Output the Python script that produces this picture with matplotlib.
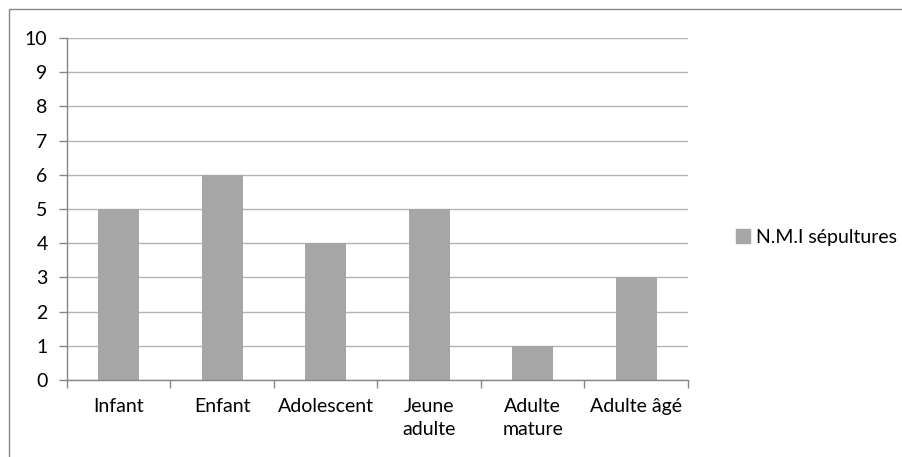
import matplotlib.pyplot as plt
from matplotlib.patches import Rectangle
from matplotlib.lines import Line2D

# Données
categories = ['Infant', 'Enfant', 'Adolescent', 'Jeune\nadulte', 'Adulte\nmature', 'Adulte âgé']
nmi_sepultures = [5, 6, 4, 5, 1, 3]
serie_label = 'N.M.I sépultures'

plt.rcParams['font.family'] = ['Lato', 'DejaVu Sans']

W, H = 903, 457
fig = plt.figure(figsize=(W / 100, H / 100), dpi=100)
ax = fig.add_axes([67 / W, 1 - 380 / H, (688 - 67) / W, (380 - 38) / H])

axis_color = '#868686'
bar_color = '#a6a6a6'

x = range(len(categories))
ax.bar(x, nmi_sepultures, width=0.4, color=bar_color, zorder=3, label=serie_label)

ax.set_xlim(-0.5, len(categories) - 0.5)
ax.set_ylim(0, 10)
ax.set_yticks(range(0, 11))
ax.set_xticks(list(x))
ax.set_xticklabels(categories, fontsize=14, linespacing=1.45)
ax.set_xticks([i - 0.5 for i in range(len(categories) + 1)], minor=True)
ax.tick_params(axis='x', which='major', length=0, pad=13)
ax.tick_params(axis='x', which='minor', length=6, color=axis_color, width=1)
ax.tick_params(axis='y', length=6, color=axis_color, width=1, labelsize=14, pad=8)

ax.grid(axis='y', color='#b3b3b3', linewidth=1, zorder=0)
for side in ['top', 'right']:
    ax.spines[side].set_visible(False)
for side in ['left', 'bottom']:
    ax.spines[side].set_color(axis_color)
    ax.spines[side].set_linewidth(1)
    ax.spines[side].set_zorder(4)

# Légende
handle = Line2D([], [], marker='s', linestyle='none', markersize=10,
                markerfacecolor=bar_color, markeredgecolor=bar_color)
fig.legend([handle], [serie_label], loc='center left',
           bbox_to_anchor=(716 / W, 1 - 237 / H), frameon=False,
           fontsize=14, handletextpad=0.15, handlelength=1.0)

# Cadre du graphique
fig.patches.append(Rectangle((8.5 / W, -0.1), 1.2, 1 - 8.5 / H + 0.1,
                             transform=fig.transFigure, fill=False,
                             edgecolor=axis_color, linewidth=1))

fig.savefig('out.png', dpi=100)
